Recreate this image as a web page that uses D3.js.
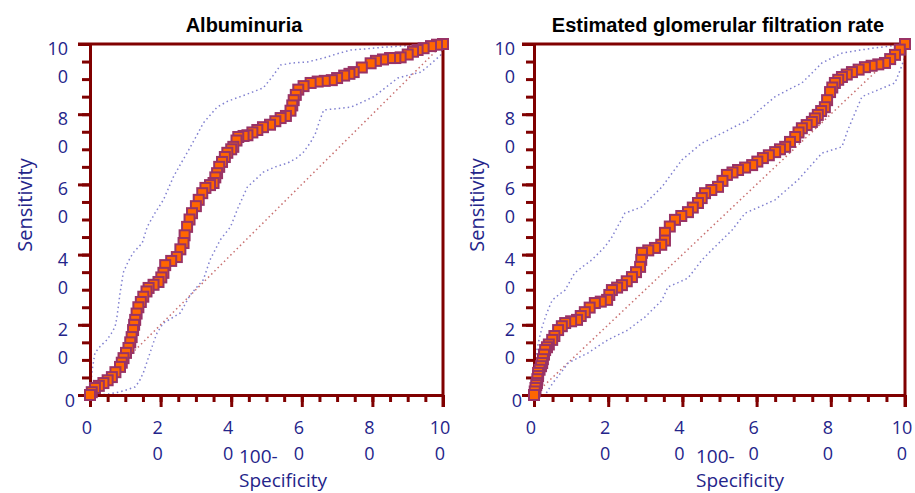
<!DOCTYPE html>
<html>
<head>
<meta charset="utf-8">
<script src="https://cdn.jsdelivr.net/npm/d3@7"></script>
<style>
    body { margin: 0; background: #fff; }
    text { font-family: "Open Sans", sans-serif; }
</style>
</head>
<body>
<div id="chart"></div>
<script>
// tick labels shared by both panels
var tickLabels = ['0', '20', '40', '60', '80', '100'];
var minorTicks = d3.range(0, 101, 5);

// Albuminuria: ROC points [100-specificity, sensitivity]
var albRoc = [[0,0],[0.5,0.8],[1.4,2],[2.5,2.6],[3.8,3.4],[5,4.2],[6.2,5.1],[7.2,6.5],[8.5,8],[9,9.2],
    [9.5,10.5],[10.2,12],[10.9,13.4],[11.4,15],[11.8,16.5],[12.2,18.5],[12.5,20],[12.8,21.4],[13.2,23.2],
    [13.7,25],[14.4,26.5],[15.1,28],[16,29.5],[16.6,30.5],[18,31.4],[19.4,32.2],[20.2,33.5],[20.8,34.8],
    [21.3,37],[23,38.2],[24.6,39.3],[25.6,41.5],[26.5,43.3],[26.8,45.5],[27.5,47.9],[28.2,50],[28.9,51.8],
    [30,53.8],[30.8,55.6],[31.8,57.5],[32.7,59],[34,59.8],[35,60.4],[35.5,62],[36,63.2],[36.6,65],
    [37.4,66.4],[38.2,67.8],[38.9,69],[40,70],[40.6,70.7],[41.5,72.5],[42,73.5],[43.5,73.8],[44.6,74],
    [46,74.8],[47.4,75.5],[49,76.3],[51,77],[52.5,78],[54,78.9],[55.5,79.5],[56.8,81],[57.3,82.5],
    [57.7,84],[58.3,85.5],[59,87],[60.5,88],[62.5,88.9],[64.5,89.3],[66.5,89.5],[68.5,89.7],[70,90.3],
    [72,91],[73.5,91.5],[74.7,92],[77,93.3],[79.5,94.5],[81,95.2],[83,95.6],[85,96],[86.5,96],[88,96.2],
    [90,97],[91.5,97.8],[92.8,98.3],[94.5,98.8],[96.6,99.4],[98.3,99.8],[100,100]];
var albUpper = [[0,0],[0.3,4],[0.6,7],[1.4,12],[3,14],[4.8,15.7],[6,17.5],[7.1,19.4],[7.6,22],[8,25],
    [8.5,29],[9,32],[9.4,34.8],[10.8,38],[12.2,40.5],[14.8,43.3],[16.2,47.9],[18.5,52],[20.8,55.6],
    [23.6,62.1],[25.5,65.5],[27.5,69],[30,73.5],[32.1,77.5],[36,82],[39,83.7],[42.6,85],[46,86.3],
    [49.1,87.5],[51.5,90.5],[54,94],[57.5,94.6],[61.6,94.9],[66.2,96],[70,97.2],[73.9,98.3],[78,98.6],
    [83.2,99.1],[88,99.4],[92.9,99.7],[100,100]];
var albLower = [[0,0],[2.8,0],[5.5,0.3],[8.5,0.9],[10.8,1.6],[12.8,2.3],[14,4],[15.1,6.3],[16,9],
    [17,12],[18,15],[19,17.7],[20.8,20.5],[23,21.8],[25.6,23.4],[27,26],[28.4,28.5],[30.3,30.8],
    [32.1,32.8],[33,35.5],[34,38.5],[36.9,44.2],[39.8,47.9],[42,53.5],[44.6,59.3],[47,61.5],[49.1,63.5],
    [52.5,65],[56,66.1],[58.5,67.5],[60.5,69.2],[62.5,72],[63.9,74.6],[65,78],[66.2,81.2],[70,81.6],
    [73.9,82],[77,83.4],[80.4,85],[84,87.8],[87.2,90.3],[90.5,91.2],[93.8,92],[96.5,94.3],[99.4,96.9],
    [100,100]];

// Estimated glomerular filtration rate
var egfrRoc = [[0,0],[0.2,1],[0.4,2],[0.6,2.8],[0.8,3.4],[0.9,4.5],[1.1,5.4],[1.1,6.3],[1.5,7.2],
    [1.9,8.2],[2.2,9.1],[2.4,10.2],[2.7,11.5],[3,12.8],[3.5,13.6],[4,14.4],[4.9,15.7],[5.5,16.8],
    [6.5,18.5],[7.5,19.6],[8.4,20.5],[10,21],[11.6,21.4],[12.6,22.5],[13.7,23.6],[15,24.9],[16.4,26.2],
    [18,26.6],[19.7,27.1],[20.3,28.5],[21,29.9],[22.4,30.6],[23.7,31.3],[25,32.4],[26.4,33.6],[27.5,35],
    [28.6,36.5],[28.9,38.5],[29.1,40.5],[30.8,41.2],[32.6,41.9],[34.3,42.8],[35.3,44],[35.3,46.2],
    [36.6,48],[38,49.9],[39.7,51],[41.5,52.1],[42.8,53.4],[44.2,54.7],[45.2,56.1],[46.1,57.5],[47.8,58.4],
    [49.6,59.3],[50.8,61],[52,62.7],[53.5,63.4],[55,64.1],[56.9,64.8],[58.8,65.5],[60.2,66.5],[61.7,67.5],
    [63.3,68.3],[65,69.2],[66.3,70],[67.7,70.7],[69,72.1],[70.4,73.5],[71.3,74.8],[72.2,76],[73.5,76.9],
    [74.9,77.8],[75.7,78.8],[76.5,79.8],[77.4,80.9],[78.4,82],[79,84],[79.8,86.3],[80.4,87.6],[81.1,88.9],
    [82,89.8],[83,90.6],[84.3,91.3],[85.7,92],[87.5,92.7],[89.2,93.4],[91,93.8],[92.8,94.2],[94.6,94.6],
    [96,95.7],[97.3,96.9],[98.6,98.4],[100,100]];
var egfrUpper = [[0,0],[0.3,7],[0.8,12.8],[1.4,16],[2.2,19.4],[3.5,23.5],[4.9,27],[6.6,28.5],[8.4,29.9],
    [9.7,32.4],[11,34.8],[13.3,36.7],[15.6,38.5],[19.1,42.2],[21,45],[22.8,48.5],[24.5,51.8],[26.8,52.7],
    [29.1,53.6],[31.8,56.5],[34.5,59.3],[37.2,63.2],[39.9,67],[42.6,69.4],[45.3,71.8],[48,73.2],
    [50.7,74.6],[54.2,76.5],[57.7,78.3],[61.3,81.7],[65,85],[68.6,87],[72.2,88.9],[75,91.8],[77.6,94.6],
    [80.3,96],[83,97.4],[87.5,98.2],[91.9,98.9],[96,99.4],[100,100]];
var egfrLower = [[0,0],[3,0],[4.3,2.2],[5.7,4.3],[7.5,6.7],[9.2,9.1],[11.9,10.6],[14.6,12],[17.3,13.9],
    [19.9,15.7],[22.6,17.1],[25.3,18.5],[27.6,20.4],[29.9,22.2],[32.2,24.6],[34.5,27],[36.1,30.8],
    [38.8,32],[41.5,33.3],[43.4,35.9],[45.3,38.5],[48,41.4],[50.7,44.2],[53.4,47],[56.9,51.8],[61,53.7],
    [65,55.6],[68.1,58.5],[71.2,61.3],[74.4,65.1],[77.6,68.9],[80.3,69.8],[83,70.7],[84.6,75.5],
    [86.5,80.3],[88.4,85],[92.9,87],[97.3,88.9],[98.7,92.6],[100,96.3],[100,100]];

var axisColor = '#800000';
var labelColor = '#24248a';

var svg = d3.select('#chart').append('svg')
    .attr('width', 915)
    .attr('height', 493)
    .style('background', '#fff');

function drawPanel(p) {
    var x = d3.scaleLinear().domain([0, 100]).range([p.left, p.right]);
    var y = d3.scaleLinear().domain([0, 100]).range([395, 44]);
    var g = svg.append('g');

    var line = d3.line()
        .x(function (d) { return x(d[0]); })
        .y(function (d) { return y(d[1]); });

    // diagonal reference line
    g.append('path')
        .datum([[0, 0], [100, 100]])
        .attr('d', line)
        .attr('fill', 'none')
        .attr('stroke', '#c87070')
        .attr('stroke-width', 1.5)
        .attr('stroke-dasharray', '1.5,3');

    // confidence bands
    [p.upper, p.lower].forEach(function (band) {
        g.append('path')
            .datum(band)
            .attr('d', line)
            .attr('fill', 'none')
            .attr('stroke', '#8080d0')
            .attr('stroke-width', 1.5)
            .attr('stroke-dasharray', '1.5,3');
    });

    // frame: top and right lines
    g.append('line')
        .attr('x1', x(0) - 12).attr('x2', x(100))
        .attr('y1', y(100)).attr('y2', y(100))
        .attr('stroke', axisColor).attr('stroke-width', 3);
    g.append('line')
        .attr('x1', x(100)).attr('x2', x(100))
        .attr('y1', y(100)).attr('y2', y(0) + 12)
        .attr('stroke', axisColor).attr('stroke-width', 3);

    // axes, minor then major ticks
    var yMinor = g.append('g').attr('transform', 'translate(' + x(0) + ',0)')
        .call(d3.axisLeft(y).tickValues(minorTicks).tickSize(8).tickSizeOuter(0).tickFormat(''));
    var yMajor = g.append('g').attr('transform', 'translate(' + x(0) + ',0)')
        .call(d3.axisLeft(y).tickValues(tickLabels.map(Number)).tickSize(12).tickSizeOuter(0).tickFormat(''));
    var xMinor = g.append('g').attr('transform', 'translate(0,' + y(0) + ')')
        .call(d3.axisBottom(x).tickValues(minorTicks).tickSize(7).tickSizeOuter(0).tickFormat(''));
    var xMajor = g.append('g').attr('transform', 'translate(0,' + y(0) + ')')
        .call(d3.axisBottom(x).tickValues(tickLabels.map(Number)).tickSize(12).tickSizeOuter(0).tickFormat(''));
    [yMinor, yMajor, xMinor, xMajor].forEach(function (a) {
        a.selectAll('path, line').attr('stroke', axisColor).attr('stroke-width', 3);
    });

    // wrapped tick labels ("10" / "0")
    function parts(s) {
        return s.length > 1 ? [s.slice(0, -1), s.slice(-1)] : [s];
    }
    tickLabels.forEach(function (s) {
        var v = +s;
        var yt = g.append('text')
            .attr('text-anchor', 'end')
            .style('font-size', '18px')
            .style('fill', labelColor);
        if (v === 0) {
            yt.append('tspan').attr('x', p.yTickRight + 7).attr('y', y(0) + 12).text(s);
        } else {
            parts(s).forEach(function (t, i) {
                yt.append('tspan').attr('x', p.yTickRight).attr('y', y(v) + 11 + i * 28).text(t);
            });
        }
        var xt = g.append('text')
            .attr('text-anchor', 'middle')
            .style('font-size', '18px')
            .style('fill', labelColor);
        parts(s).forEach(function (t, i) {
            xt.append('tspan').attr('x', x(v) - 3).attr('y', 434 + i * 26).text(t);
        });
    });

    // axis titles
    var xt = g.append('text')
        .style('font-size', '19px')
        .style('fill', labelColor);
    xt.append('tspan').attr('x', p.xTitleX).attr('y', 463).text('100-');
    xt.append('tspan').attr('x', p.xTitleX).attr('y', 487).text('Specificity');

    g.append('text')
        .attr('transform', 'translate(' + (p.yTitleX + 7) + ',205) rotate(-90)')
        .attr('text-anchor', 'middle')
        .style('font-size', '20px')
        .style('fill', labelColor)
        .text('Sensitivity');

    g.append('text')
        .attr('x', p.titleX)
        .attr('y', 32)
        .attr('text-anchor', 'middle')
        .style('font-family', '"Liberation Sans", Arial, sans-serif')
        .style('font-weight', 'bold')
        .style('font-size', '20px')
        .style('fill', '#000')
        .text(p.title);

    // ROC curve with square markers
    g.append('path')
        .datum(p.roc)
        .attr('d', line)
        .attr('fill', 'none')
        .attr('stroke', '#2020a0')
        .attr('stroke-width', 1.2);

    g.selectAll('.pt')
        .data(p.roc.slice().reverse())
        .enter().append('rect')
        .attr('class', 'pt')
        .attr('x', function (d) { return x(d[0]) - 5; })
        .attr('y', function (d) { return y(d[1]) - 5; })
        .attr('width', 10)
        .attr('height', 10)
        .attr('fill', '#ff6600')
        .attr('stroke', '#993366')
        .attr('stroke-width', 2);
}

drawPanel({ left: 90, right: 443, roc: albRoc, upper: albUpper, lower: albLower,
    title: 'Albuminuria', titleX: 244, yTickRight: 68, yTitleX: 25, xTitleX: 239 });
drawPanel({ left: 534, right: 905, roc: egfrRoc, upper: egfrUpper, lower: egfrLower,
    title: 'Estimated glomerular filtration rate', titleX: 718, yTickRight: 515, yTitleX: 477, xTitleX: 696 });
</script>
</body>
</html>
